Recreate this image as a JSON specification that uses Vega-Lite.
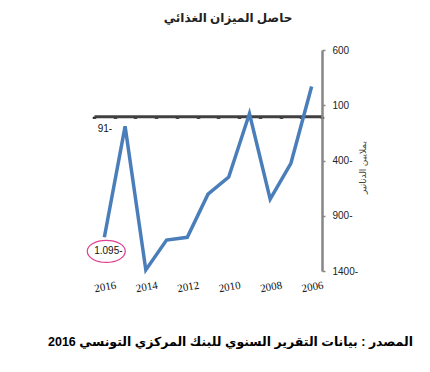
{
  "$schema": "https://vega.github.io/schema/vega-lite/v6.json",
  "width": 228,
  "height": 221,
  "autosize": {"type": "none"},
  "padding": {"left": 94, "top": 50, "right": 108, "bottom": 101},
  "background": "white",
  "config": {"view": {"stroke": null}},
  "title": {
    "text": "حاصل الميزان الغذائي",
    "font": "Arial, Liberation Sans, DejaVu Sans",
    "fontSize": 12,
    "fontWeight": "bold",
    "color": "#222222",
    "anchor": "middle",
    "frame": "group",
    "dx": 20,
    "offset": 20
  },
  "data": {
    "values": [
      {"year": 2016, "value": -1095, "label": "1.095-"},
      {"year": 2015, "value": -91, "label": "91-"},
      {"year": 2014, "value": -1390, "label": null},
      {"year": 2013, "value": -1120, "label": null},
      {"year": 2012, "value": -1095, "label": null},
      {"year": 2011, "value": -705, "label": null},
      {"year": 2010, "value": -550, "label": null},
      {"year": 2009, "value": 25, "label": null},
      {"year": 2008, "value": -750, "label": null},
      {"year": 2007, "value": -425, "label": null},
      {"year": 2006, "value": 270, "label": null}
    ]
  },
  "resolve": {"axis": {"x": "independent"}},
  "layer": [
    {
      "mark": {"type": "line", "color": "#4a7ebb", "strokeWidth": 3.5, "strokeJoin": "miter"},
      "encoding": {
        "x": {
          "field": "year",
          "type": "ordinal",
          "sort": "descending",
          "bandPosition": 0.5,
          "scale": {"type": "band", "paddingInner": 0, "paddingOuter": 0},
          "axis": {
            "orient": "bottom",
            "domain": false,
            "ticks": false,
            "grid": false,
            "bandPosition": 0,
            "labelExpr": "datum.value % 2 == 0 ? datum.label : ''",
            "labelAngle": -10,
            "labelAlign": "center",
            "labelBaseline": "top",
            "labelPadding": 10,
            "labelFont": "Liberation Serif, Times New Roman, serif",
            "labelFontSize": 11,
            "labelColor": "#111111",
            "title": "المصدر : بيانات التقرير السنوي للبنك المركزي التونسي 2016",
            "titleFont": "Arial, Liberation Sans, DejaVu Sans",
            "titleFontSize": 12.5,
            "titleFontWeight": "bold",
            "titleColor": "#000000",
            "titleAnchor": null,
            "titleAlign": "center",
            "titleBaseline": "middle",
            "titleX": 136,
            "titleY": 70
          }
        },
        "y": {
          "field": "value",
          "type": "quantitative",
          "scale": {"domain": [-1400, 600], "nice": false, "zero": false},
          "axis": {
            "orient": "right",
            "values": [600, 100, -400, -900, -1400],
            "labelExpr": "datum.value < 0 ? format(-datum.value, 'd') + '-' : format(datum.value, 'd')",
            "grid": false,
            "domainColor": "#868686",
            "domainWidth": 2.5,
            "tickColor": "#868686",
            "tickSize": 3,
            "tickWidth": 1.5,
            "labelPadding": 7,
            "labelFont": "Arial, Liberation Sans, sans-serif",
            "labelFontSize": 10,
            "labelColor": "#222222",
            "title": "بملايين الدنانير",
            "titleFont": "Arial, Liberation Sans, DejaVu Sans",
            "titleFontSize": 9,
            "titleFontWeight": "normal",
            "titleColor": "#444444",
            "titleAngle": -90,
            "titleAnchor": null,
            "titleAlign": "center",
            "titleBaseline": "middle",
            "titleX": 40,
            "titleY": 117
          }
        }
      }
    },
    {
      "transform": [{"filter": "datum.year == 2015"}],
      "mark": {"type": "text", "align": "right", "baseline": "middle", "dx": -13, "dy": 3, "font": "Arial, Liberation Sans, sans-serif", "fontSize": 10, "color": "#111111"},
      "encoding": {
        "x": {
          "field": "year",
          "type": "ordinal",
          "sort": "descending",
          "bandPosition": 0.5,
          "axis": {
            "orient": "bottom",
            "offset": -154.7,
            "labels": false,
            "title": null,
            "grid": false,
            "domainColor": "#404040",
            "domainWidth": 3,
            "ticks": true,
            "tickColor": "#1a1a1a",
            "tickSize": 2,
            "tickWidth": 3.5,
            "tickOffset": 0,
            "bandPosition": 1,
            "tickExtra": true
          }
        },
        "y": {"field": "value", "type": "quantitative"},
        "text": {"field": "label"}
      }
    },
    {
      "transform": [{"filter": "datum.year == 2016"}],
      "mark": {"type": "text", "align": "center", "baseline": "middle", "dx": 4, "dy": 14, "font": "Arial, Liberation Sans, sans-serif", "fontSize": 10, "color": "#111111"},
      "encoding": {
        "x": {"field": "year", "type": "ordinal", "sort": "descending", "bandPosition": 0.5, "axis": null},
        "y": {"field": "value", "type": "quantitative"},
        "text": {"field": "label"}
      }
    },
    {
      "transform": [{"filter": "datum.year == 2016"}],
      "mark": {
        "type": "point",
        "shape": "M -0.9 0.74 A 1 0.58 0 1 0 1.1 0.74 A 1 0.58 0 1 0 -0.9 0.74 Z",
        "size": 1444,
        "filled": false,
        "stroke": "#e0408f",
        "strokeWidth": 1.2,
        "opacity": 1
      },
      "encoding": {
        "x": {"field": "year", "type": "ordinal", "sort": "descending", "bandPosition": 0.5, "axis": null},
        "y": {"field": "value", "type": "quantitative"}
      }
    }
  ]
}
